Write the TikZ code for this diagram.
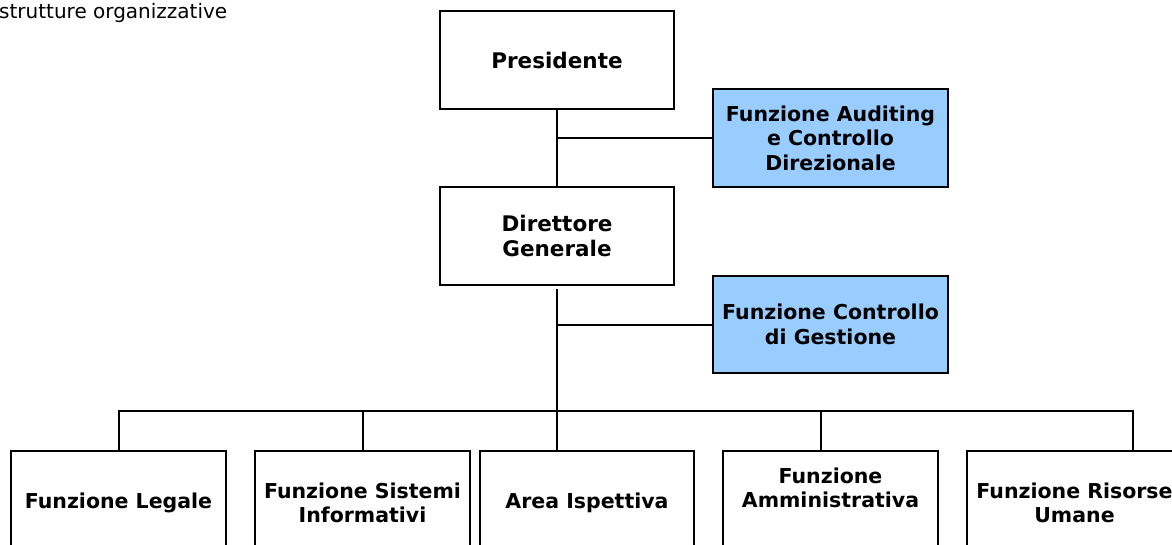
\documentclass[tikz,border=0pt]{standalone}
\usepackage{fontspec}
\setmainfont{DejaVu Sans}
\definecolor{lightblue}{HTML}{99CCFF}
\begin{document}
\begin{tikzpicture}[x=1pt,y=-1pt,
  box/.style={draw=black, line width=2.5pt, fill=white, align=center, inner sep=0pt,
    minimum width=234pt, minimum height=98pt, font=\bfseries\fontsize{21.5}{24.5}\selectfont},
  bluebox/.style={box, fill=lightblue, minimum width=235pt, font=\bfseries\fontsize{20.5}{24.5}\selectfont},
  lowbox/.style={box, minimum width=215pt, minimum height=104pt, font=\bfseries\fontsize{20.5}{23.5}\selectfont},
  conn/.style={draw=black, line width=2pt, line join=miter}]
\useasboundingbox (0,0) rectangle (1172,544);
\clip (0,0) rectangle (1172,544);
\fill[white] (0,0) rectangle (1172,544);

\node[anchor=base west, font=\fontsize{20}{24}\selectfont, inner sep=0pt] (title) at (-1,18) {strutture organizzative};

\node[box] (pres) at (557,60) {Presidente};
\node[box] (dir) at (557,236) {\rule{0pt}{0pt}Direttore\\Generale};
\node[bluebox] (aud) at (830.5,138) {Funzione Auditing\\e Controllo\\Direzionale};
\node[bluebox, minimum height=97pt] (ctrl) at (830.5,324.5) {Funzione Controllo\\di Gestione};

\node[lowbox] (b1) at (118.5,503) {Funzione Legale};
\node[lowbox] (b2) at (362.5,503) {Funzione Sistemi\\Informativi};
\node[lowbox, minimum width=214pt] (b3) at (587,503) {Area Ispettiva};
\node[lowbox] (b4) at (830.5,503) {Funzione\\Amministrativa\\\strut};
\node[lowbox] (b5) at (1074.5,503) {Funzione Risorse\\Umane};

\coordinate (bus) at (557,411);
\coordinate (t4) at (821,451);
\coordinate (t5) at (1133,451);

\draw[conn] (pres.south) -- (dir.north);
\draw[conn] (aud.west) -- (aud.west -| pres.south);
\draw[conn, shorten <=3pt] (dir.south) -- (bus);
\draw[conn] (ctrl.west) -- (ctrl.west -| dir.south);
\draw[conn] (b1.north) |- (bus) -| (t5);
\draw[conn] (b2.north) -- (b2.north |- bus);
\draw[conn] (b3.north -| bus) -- (bus);
\draw[conn] (t4) -- (t4 |- bus);
\end{tikzpicture}
\end{document}
